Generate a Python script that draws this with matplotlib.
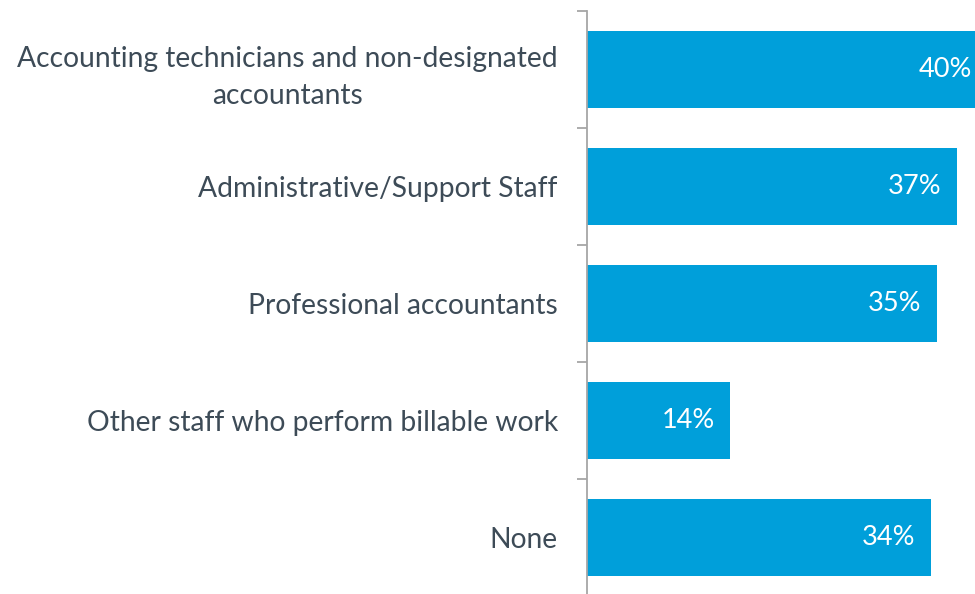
"""Share of staff types, horizontal bar chart."""

import matplotlib

matplotlib.use("Agg")
import matplotlib.pyplot as plt
import numpy as np

categories = [
    "Accounting technicians and non-designated\naccountants",
    "Administrative/Support Staff",
    "Professional accountants",
    "Other staff who perform billable work",
    "None",
]
values = [40, 37, 35, 14.3, 34.4]

BAR = "#009fda"
TEXT = "#3d4b57"
AXIS = "#a6a6a6"

plt.rcParams["font.family"] = ["Lato", "DejaVu Sans"]

fig = plt.figure(figsize=(9.75, 5.94), dpi=100)
ax = fig.add_axes([587 / 975, -2 / 594, 400 / 975, 585 / 594])

y = np.arange(len(categories))
ax.barh(y, values, height=0.66, color=BAR)
ax.set_xlim(0, 40)
ax.set_ylim(len(categories) - 0.5, -0.5)

for yi, v in zip(y, values):
    ax.annotate(f"{v:.0f}%", xy=(v, yi), xytext=(-11, 0), textcoords="offset points",
                ha="right", va="center", color="white", fontsize=19.5)

ax.set_yticks(y)
ax.set_yticklabels(categories, fontsize=20.3, color=TEXT)
ax.set_yticks(np.arange(len(categories) + 1) - 0.5, minor=True)
ax.tick_params(axis="y", which="major", length=0, pad=21)
ax.tick_params(axis="y", which="minor", length=7, color=AXIS, width=1.3)
for lbl in ax.get_yticklabels():
    lbl.set_multialignment("center")
    lbl.set_linespacing(1.5)
ax.set_xticks([])

for side in ("top", "right", "bottom"):
    ax.spines[side].set_visible(False)
ax.spines["left"].set_color(AXIS)
ax.spines["left"].set_linewidth(1.3)

fig.savefig("out.png", dpi=100)
